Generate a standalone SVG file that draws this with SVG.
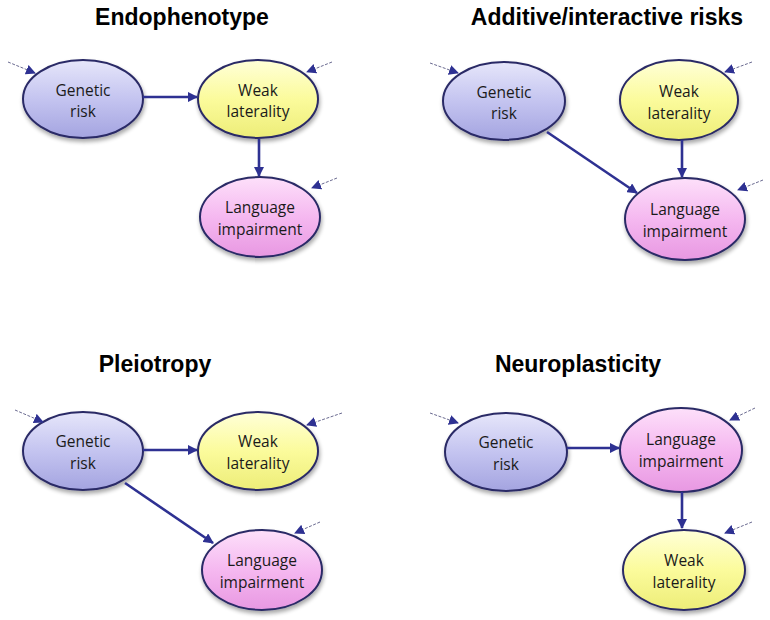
<svg xmlns="http://www.w3.org/2000/svg" width="770" height="620" viewBox="0 0 770 620">
<defs>
<linearGradient id="gBlue" x1="0" y1="0" x2="0" y2="1">
<stop offset="0" stop-color="#e6e6fa"/><stop offset="0.5" stop-color="#c4c4f0"/><stop offset="1" stop-color="#a4a4e0"/>
</linearGradient>
<linearGradient id="gYellow" x1="0" y1="0" x2="0" y2="1">
<stop offset="0" stop-color="#ffffd8"/><stop offset="0.5" stop-color="#fbfb9c"/><stop offset="1" stop-color="#eded78"/>
</linearGradient>
<linearGradient id="gPink" x1="0" y1="0" x2="0" y2="1">
<stop offset="0" stop-color="#fde0fa"/><stop offset="0.5" stop-color="#f5b8f0"/><stop offset="1" stop-color="#e898e2"/>
</linearGradient>
<filter id="sh" x="-20%" y="-20%" width="140%" height="150%">
<feGaussianBlur in="SourceAlpha" stdDeviation="2"/><feOffset dx="1" dy="3" result="b"/>
<feComponentTransfer><feFuncA type="linear" slope="0.35"/></feComponentTransfer>
<feMerge><feMergeNode/><feMergeNode in="SourceGraphic"/></feMerge>
</filter>
<marker id="ah" viewBox="0 0 10 10" refX="9" refY="5" markerWidth="4" markerHeight="4" orient="auto" markerUnits="strokeWidth">
<path d="M0,0 L10,5 L0,10 z" fill="#2e3192"/>
</marker>
<marker id="ahs" viewBox="0 0 10 10" refX="9" refY="5" markerWidth="10" markerHeight="10" orient="auto" markerUnits="strokeWidth">
<path d="M0,0 L10,5 L0,10 z" fill="#2e3192"/>
</marker>
</defs>
<style>
.title{font-family:"Liberation Sans",Arial,sans-serif;font-weight:bold;font-size:23px;fill:#000;text-anchor:middle}
.lbl{font-family:"Open Sans","Liberation Sans",sans-serif;font-size:15.5px;fill:#1a1a1a;text-anchor:middle}
.node ellipse{stroke:#2a2a66;stroke-width:2;filter:url(#sh)}
.blue{fill:url(#gBlue)}.yellow{fill:url(#gYellow)}.pink{fill:url(#gPink)}
.arr{stroke:#2e3192;stroke-width:2.6;fill:none;marker-end:url(#ah)}
.dash{stroke:#6a6a90;stroke-width:1;stroke-dasharray:3,1.5;fill:none;marker-end:url(#ahs)}
</style>
<rect width="770" height="620" fill="#fff"/>
<text class="title" x="182" y="25">Endophenotype</text>
<text class="title" x="607" y="25">Additive/interactive risks</text>
<text class="title" x="155" y="372">Pleiotropy</text>
<text class="title" x="578" y="372">Neuroplasticity</text>

<g id="p1-genetic" class="node"><ellipse class="blue" cx="83" cy="99" rx="60" ry="39"/><text class="lbl" x="83" y="96">Genetic</text><text class="lbl" x="83" y="117">risk</text></g>
<g id="p1-weak" class="node"><ellipse class="yellow" cx="258" cy="99" rx="60" ry="39"/><text class="lbl" x="258" y="96">Weak</text><text class="lbl" x="258" y="117">laterality</text></g>
<g id="p1-lang" class="node"><ellipse class="pink" cx="260" cy="217" rx="60" ry="40"/><text class="lbl" x="260" y="213">Language</text><text class="lbl" x="260" y="235">impairment</text></g>

<g id="p2-genetic" class="node"><ellipse class="blue" cx="504" cy="101" rx="61" ry="39"/><text class="lbl" x="504" y="98">Genetic</text><text class="lbl" x="504" y="119">risk</text></g>
<g id="p2-weak" class="node"><ellipse class="yellow" cx="679" cy="100" rx="59" ry="40"/><text class="lbl" x="679" y="97">Weak</text><text class="lbl" x="679" y="119">laterality</text></g>
<g id="p2-lang" class="node"><ellipse class="pink" cx="685" cy="219" rx="60" ry="41"/><text class="lbl" x="685" y="215">Language</text><text class="lbl" x="685" y="237">impairment</text></g>

<g id="p3-genetic" class="node"><ellipse class="blue" cx="83" cy="451" rx="60" ry="39"/><text class="lbl" x="83" y="447">Genetic</text><text class="lbl" x="83" y="469">risk</text></g>
<g id="p3-weak" class="node"><ellipse class="yellow" cx="258" cy="451" rx="60" ry="39"/><text class="lbl" x="258" y="447">Weak</text><text class="lbl" x="258" y="469">laterality</text></g>
<g id="p3-lang" class="node"><ellipse class="pink" cx="262" cy="570" rx="60" ry="40"/><text class="lbl" x="262" y="566">Language</text><text class="lbl" x="262" y="588">impairment</text></g>

<g id="p4-genetic" class="node"><ellipse class="blue" cx="506" cy="452" rx="61" ry="39"/><text class="lbl" x="506" y="448">Genetic</text><text class="lbl" x="506" y="470">risk</text></g>
<g id="p4-lang" class="node"><ellipse class="pink" cx="681" cy="450" rx="61" ry="42"/><text class="lbl" x="681" y="445">Language</text><text class="lbl" x="681" y="467">impairment</text></g>
<g id="p4-weak" class="node"><ellipse class="yellow" cx="684" cy="570" rx="61" ry="40"/><text class="lbl" x="684" y="566">Weak</text><text class="lbl" x="684" y="588">laterality</text></g>

<g id="connectors">
<line class="arr" x1="143" y1="97" x2="197" y2="97"/>
<line class="arr" x1="259" y1="139" x2="259" y2="176"/>
<line class="dash" x1="8" y1="62" x2="35" y2="73"/>
<line class="dash" x1="332" y1="62" x2="307" y2="72"/>
<line class="dash" x1="337" y1="178" x2="312" y2="188"/>

<line class="arr" x1="547" y1="132" x2="637" y2="193"/>
<line class="arr" x1="682" y1="140" x2="682" y2="177"/>
<line class="dash" x1="430" y1="63" x2="458" y2="73"/>
<line class="dash" x1="752" y1="62" x2="725" y2="72"/>
<line class="dash" x1="763" y1="180" x2="738" y2="190"/>

<line class="arr" x1="143" y1="450" x2="197" y2="450"/>
<line class="arr" x1="125" y1="483" x2="213" y2="543"/>
<line class="dash" x1="15" y1="410" x2="43" y2="422"/>
<line class="dash" x1="342" y1="413" x2="307" y2="425"/>
<line class="dash" x1="320" y1="522" x2="295" y2="533"/>

<line class="arr" x1="567" y1="448" x2="619" y2="448"/>
<line class="arr" x1="682" y1="492" x2="682" y2="528"/>
<line class="dash" x1="430" y1="413" x2="458" y2="423"/>
<line class="dash" x1="755" y1="408" x2="730" y2="420"/>
<line class="dash" x1="752" y1="522" x2="725" y2="533"/>
</g>
</svg>
